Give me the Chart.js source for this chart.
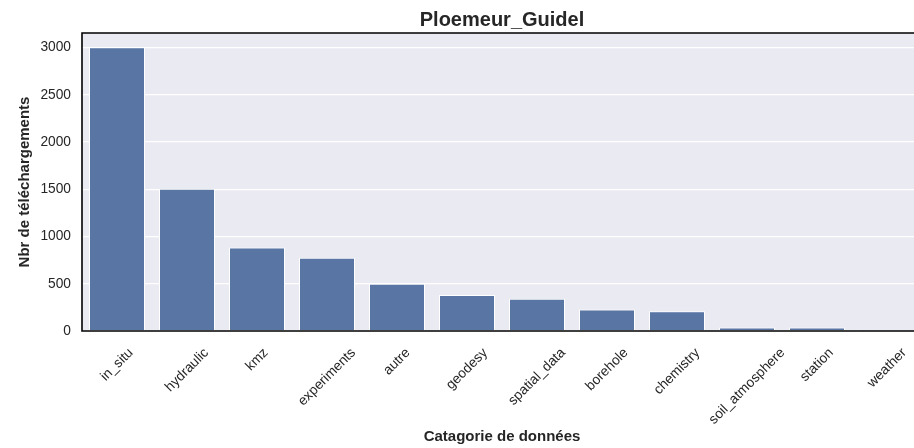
<!DOCTYPE html>
<html>
<head>
<meta charset="utf-8">
<script src="https://cdn.jsdelivr.net/npm/chart.js@4/dist/chart.umd.min.js"></script>
<style>
  html, body { margin: 0; padding: 0; background: #fff; overflow: hidden; }
</style>
</head>
<body>
<canvas id="chart" width="940" height="448"></canvas>
<script>
const categories = ["in_situ", "hydraulic", "kmz", "experiments", "autre", "geodesy",
  "spatial_data", "borehole", "chemistry", "soil_atmosphere", "station", "weather"];
const downloads = [3005, 1505, 883, 775, 500, 380, 342, 228, 210, 38, 36, 2];
const yTicks = [0, 500, 1000, 1500, 2000, 2500, 3000];

const FONT = "'Liberation Sans', Arial, sans-serif";
const TEXT = "#262626";

// seaborn darkgrid background + black frame (top, left, bottom)
const frame = {
  id: "frame",
  beforeDraw(chart) {
    const { ctx, chartArea: a } = chart;
    ctx.save();
    ctx.fillStyle = "#eaeaf2";
    ctx.fillRect(a.left, a.top, a.right - a.left, a.bottom - a.top);
    ctx.restore();
  },
  afterDatasetsDraw(chart) {
    const { ctx, chartArea: a } = chart;
    ctx.save();
    ctx.strokeStyle = "#000";
    ctx.lineWidth = 1.6;
    ctx.beginPath();
    ctx.moveTo(a.right + 10, a.top);
    ctx.lineTo(a.left, a.top);
    ctx.lineTo(a.left, a.bottom);
    ctx.lineTo(a.right + 10, a.bottom);
    ctx.stroke();
    ctx.restore();
  }
};

// rotated x tick labels, centred on the tick like matplotlib's ha="center"
const xLabels = {
  id: "xLabels",
  afterDraw(chart) {
    const { ctx, chartArea: a } = chart;
    const x = chart.scales.x;
    ctx.save();
    ctx.font = "13.75px " + FONT;
    ctx.fillStyle = TEXT;
    ctx.textAlign = "center";
    ctx.textBaseline = "middle";
    categories.forEach((label, i) => {
      const w = ctx.measureText(label).width;
      const cx = x.getPixelForValue(i);
      const cy = a.bottom + 14 + (w + 16) * Math.SQRT1_2 / 2;
      ctx.save();
      ctx.translate(cx, cy);
      ctx.rotate(-Math.PI / 4);
      ctx.fillText(label, 0, 0);
      ctx.restore();
    });
    ctx.restore();
  }
};

new Chart(document.getElementById("chart"), {
  type: "bar",
  data: {
    labels: categories,
    datasets: [{
      data: downloads,
      backgroundColor: "#5875a4",
      borderColor: "#ffffff",
      borderWidth: 1,
      barPercentage: 0.8,
      categoryPercentage: 1
    }]
  },
  options: {
    responsive: false,
    animation: false,
    layout: { padding: { left: 0, right: 18, top: 0, bottom: 0 } },
    plugins: {
      legend: { display: false },
      tooltip: { enabled: false },
      title: {
        display: true,
        text: "Ploemeur_Guidel",
        fullSize: false,
        color: TEXT,
        font: { family: FONT, size: 20, weight: "bold" },
        padding: { top: 8, bottom: 1 }
      }
    },
    scales: {
      x: {
        offset: true,
        grid: { display: false },
        border: { display: false },
        ticks: { display: false },
        title: {
          display: true,
          text: "Catagorie de données",
          color: TEXT,
          font: { family: FONT, size: 15, weight: "bold" },
          padding: { top: 0, bottom: 2 }
        },
        afterFit(scale) { scale.height = 117; }
      },
      y: {
        min: 0,
        max: 3155,
        afterBuildTicks(scale) {
          scale.ticks = yTicks.map(v => ({ value: v }));
        },
        grid: { color: "#ffffff", lineWidth: 1.3, drawTicks: false },
        border: { display: false },
        ticks: {
          color: TEXT,
          padding: 11,
          font: { family: FONT, size: 13.75 },
          callback: v => String(v)
        },
        title: {
          display: true,
          text: "Nbr de téléchargements",
          color: TEXT,
          font: { family: FONT, size: 15, weight: "bold" },
          padding: { top: 16, bottom: 0 }
        },
        afterFit(scale) { scale.width = 82; }
      }
    }
  },
  plugins: [frame, xLabels]
});
</script>
</body>
</html>
